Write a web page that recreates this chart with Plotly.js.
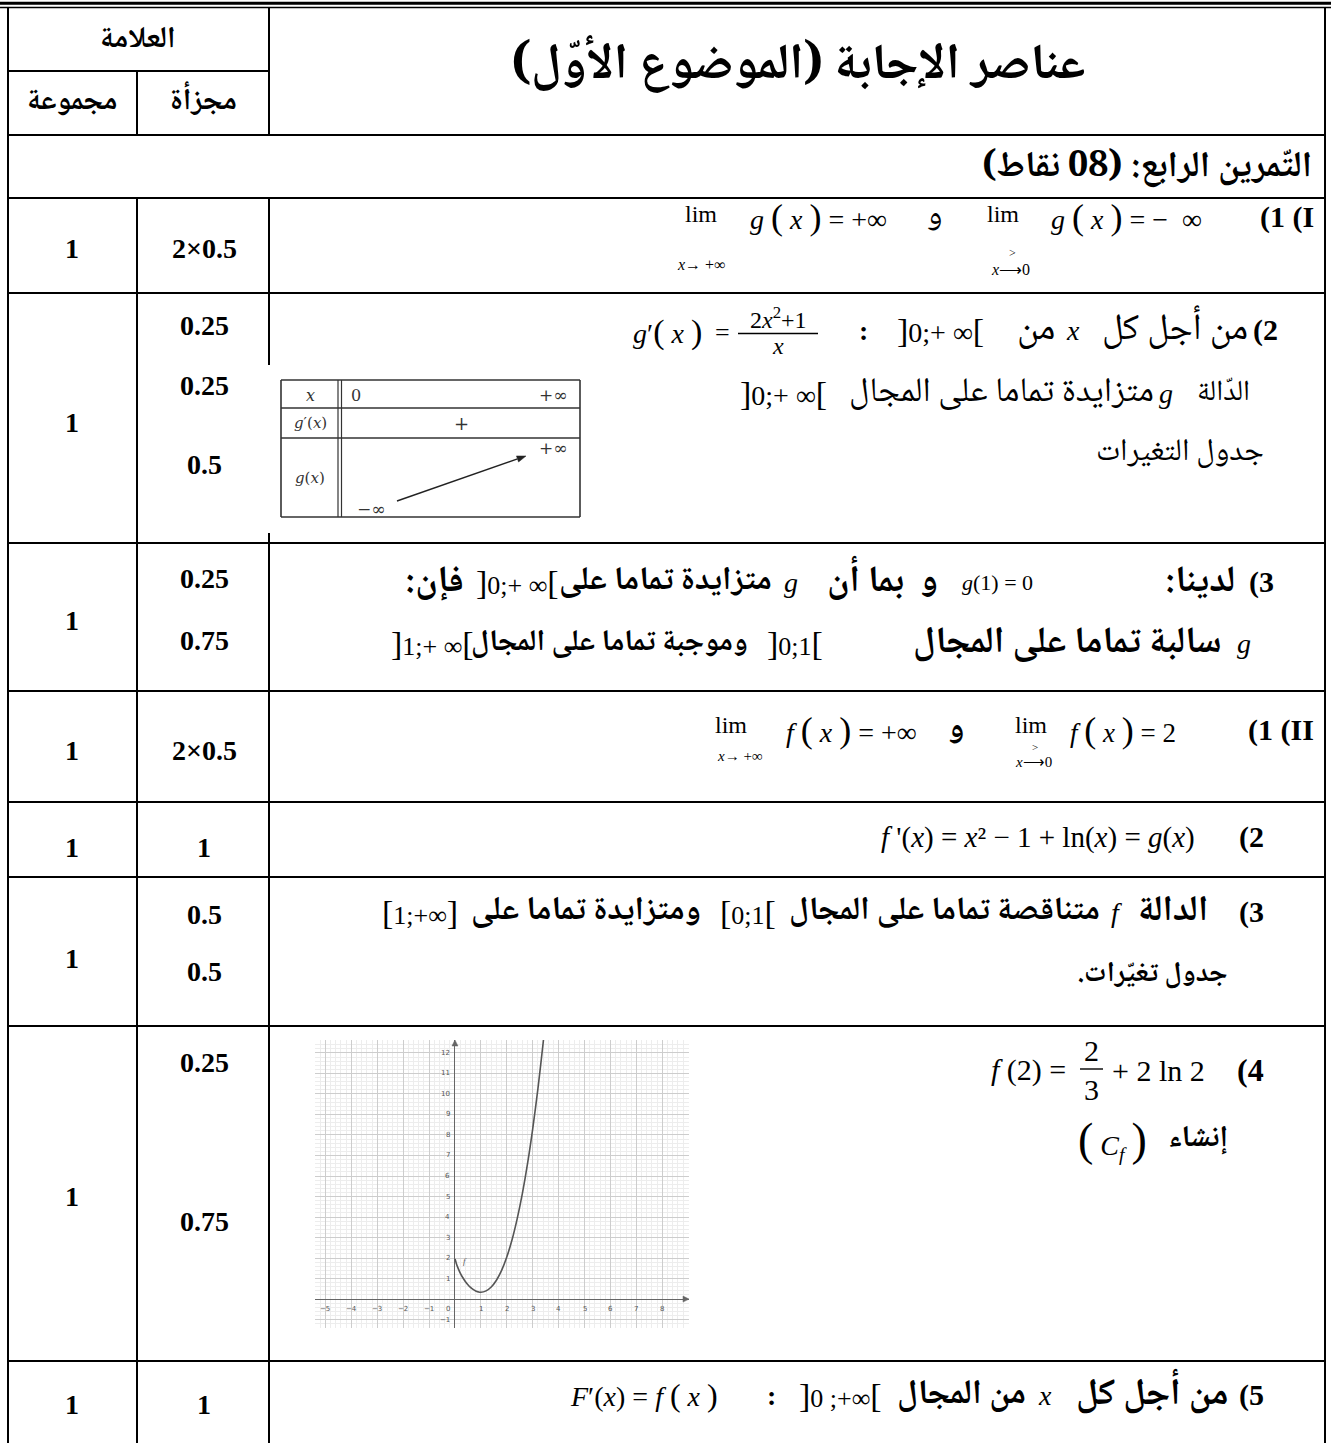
<!DOCTYPE html>
<html>
<head>
<meta charset="utf-8">
<script src="https://cdn.plot.ly/plotly-3.0.1.min.js"></script>
<style>html,body{margin:0;padding:0;background:#fff;}</style>
</head>
<body>
<div id="chart" style="width:1331px;height:1443px;"></div>
<script>
// ---------------- data ----------------
const headerGroup = 'العلامة';
const headerTotal = 'مجموعة';
const headerPart = 'مجزأة';
const titleText = 'عناصر الإجابة (الموضوع الأوّل)';
const exerciseText = 'التّمرين الرابع: (08 نقاط)';
const totalMarks = ['1', '1', '1', '1', '1', '1', '1', '1'];
const partMarks = [['2×0.5'], ['0.25', '0.25', '0.5'], ['0.25', '0.75'], ['2×0.5'], ['1'], ['0.5', '0.5'], ['0.25', '0.75'], ['1']];
// curve of f
const curveX = [0.005, 0.02, 0.05, 0.1, 0.2, 0.3, 0.4, 0.5, 0.6, 0.7, 0.8, 0.9, 1.0, 1.2, 1.4, 1.6, 1.8, 2.0, 2.2, 2.4, 2.6, 2.8, 3.0, 3.2, 3.4, 3.45];
const curveY = [1.96, 1.88, 1.75, 1.57, 1.28, 1.05, 0.86, 0.70, 0.57, 0.47, 0.39, 0.35, 0.33, 0.40, 0.59, 0.92, 1.40, 2.05, 2.88, 3.91, 5.14, 6.60, 8.30, 10.25, 12.46, 13.06];
const xTickVals = [-5, -4, -3, -2, -1, 1, 2, 3, 4, 5, 6, 7, 8];
const yTickVals = [-1, 1, 2, 3, 4, 5, 6, 7, 8, 9, 10, 11, 12];
const curveLabel = 'f';

// ---------------- layout helpers ----------------
const SERIF = '"Liberation Serif", "Times New Roman", serif';
const ARABFAM = '"Noto Naskh Arabic", "Noto Sans Arabic", "DejaVu Sans"';
const ARAB = ARABFAM + ', sans-serif';
const RLE = '\u202B', PDF = '\u202C';
const ctx = document.createElement('canvas').getContext('2d');
const shapes = [];
const ann = [];

function L(x0, y0, x1, y1, w, c, xr, yr) {
  shapes.push({type: 'line', xref: xr || 'x', yref: yr || 'y', x0, y0, x1, y1, layer: 'above',
    line: {color: c || '#000', width: w || 2}});
}
function tri(pts, c, xr, yr) {
  const d = 'M' + pts.map(p => p[0] + ',' + p[1]).join(' L') + ' Z';
  shapes.push({type: 'path', xref: xr || 'x', yref: yr || 'y', path: d, layer: 'above',
    fillcolor: c, line: {color: c, width: 0.5}});
}
function put(x, y, html, o) {
  o = o || {};
  ann.push({x, y, xref: 'x', yref: 'y', text: html, showarrow: false,
    xanchor: o.a || 'center', yanchor: 'middle',
    font: {family: o.f || SERIF, size: o.s || 26, color: o.c || '#000'}});
}
function measure(txt, bold) {
  ctx.font = (bold ? 'bold ' : '') + '100px ' + ARABFAM;
  return ctx.measureText(RLE + txt + PDF).width;
}
// a group of Arabic segments with a common font size (each one may vary a little to fill its slot)
function group(items, bold, maxS, anchor, spread) {
  let sw = 0, mw = 0;
  items.forEach(it => { sw += it[0] - it[1]; mw += measure(it[3], bold); });
  const S = Math.max(14, Math.min(maxS || 30, 100 * sw / mw));
  const k = spread === undefined ? 0.12 : spread;
  items.forEach(it => {
    const t = RLE + it[3] + PDF;
    const fit = 100 * (it[0] - it[1]) / measure(it[3], bold);
    const s = Math.max(S * (1 - k), Math.min(S * (1 + k), fit));
    const html = bold ? '<b>' + t + '</b>' : t;
    if (anchor === 'center') put((it[0] + it[1]) / 2, it[2], html, {f: ARAB, s: s});
    else put(it[0], it[2], html, {f: ARAB, s: s, a: 'right'});
  });
  return S;
}
function BR(l, inner, r, big) {
  const b = big || 34;
  return '<span style="font-size:' + b + 'px">' + l + '</span>' + inner + '<span style="font-size:' + b + 'px">' + r + '</span>';
}
const P = (c, s) => '<span style="font-size:' + (s || 36) + 'px">' + c + '</span>';

// ---------------- table grid ----------------
const XL = 8, XR = 1325, XC1 = 137, XC2 = 269, YT = 7.5, YB = 1443;
shapes.push({type: 'rect', xref: 'x', yref: 'y', x0: 0, x1: 1331, y0: 1.8, y1: 4.8, layer: 'above',
  fillcolor: '#000', line: {width: 0}});
L(0, YT, 1331, YT, 1.6);
L(XL, YT, XL, YB, 2);
L(XR, YT, XR, YB, 2);
L(XC2, YT, XC2, 135, 2);
L(XC1, 71, XC1, 135, 2);
L(XL, 71, XC2, 71, 2);
L(XC1, 198, XC1, YB, 2);
L(XC2, 198, XC2, 365, 2);
L(XC2, 533, XC2, YB, 2);
const rowLines = [135, 198, 293, 543, 691, 802, 877, 1026, 1361];
rowLines.forEach(y => L(XL, y, XR, y, 2));

// ---------------- header ----------------
group([[176, 100, 40, headerGroup]], true, 30, 'center', 0);
group([[128, 16, 102, headerTotal]], true, 30, 'center', 0);
group([[237, 170, 102, headerPart]], true, 30, 'center', 0);
group([[1090, 505, 67, titleText]], true, 50, 'center', 0);
group([[1316, 977, 168, exerciseText]], true, 36, 'center', 0);

// ---------------- marks ----------------
const totY = [248, 422, 620, 750, 847, 958, 1196, 1404];
const partY = [[248], [325, 385, 464], [578, 640], [750], [847], [914, 971], [1062, 1221], [1404]];
totalMarks.forEach((m, i) => put(72, totY[i], '<b>' + m + '</b>', {s: 28}));
partMarks.forEach((arr, i) => arr.forEach((m, j) => put(204, partY[i][j], '<b>' + m + '</b>', {s: 28})));

// ---------------- Arabic text of the rows ----------------
const S2 = group([
  [1250, 1098, 330, 'من أجل كل'], [1057, 1013, 330, 'من'],
  [1252, 1206, 393, 'الدّالة'], [1156, 851, 393, 'متزايدة تماما على المجال'],
  [1266, 1098, 453, 'جدول التغيرات']], false, 33);
const S3 = group([
  [1237, 1150, 582, 'لدينا:'], [940, 922, 582, 'و'], [906, 811, 582, 'بما أن'],
  [774, 561, 582, 'متزايدة تماما على'], [466, 382, 582, 'فإن:'],
  [1224, 865, 643, 'سالبة تماما على المجال'], [750, 473, 643, 'وموجبة تماما على المجال']], true, 33);
group([[944, 924, 217, 'و']], false, S2, 'center', 0);
group([[966, 946, 730, 'و']], true, S3, 'center', 0);
const S6 = group([
  [1210, 1136, 912, 'الدالة'], [1102, 791, 912, 'متناقصة تماما على المجال'],
  [703, 473, 912, 'ومتزايدة تماما على'], [1230, 1082, 975, 'جدول تغيّرات.']], true, 33);
group([[1230, 1170, 1139, 'إنشاء']], true, S6, 'right', 0);
group([[1230, 1068, 1395, 'من أجل كل'], [1028, 899, 1395, 'من المجال']], true, 33);

// ---------------- row I 1 ----------------
put(1316, 217, '<b>(1 (I</b>', {a: 'right', s: 30});
put(1003, 214, 'lim', {s: 24});
put(1010, 269, '<i>x</i>⟶0', {s: 16});
put(1012, 253, '>', {s: 12});
put(1049, 217, '<i>g</i> ' + P('(') + ' <i>x</i> ' + P(')') + ' = −  ∞', {a: 'left', s: 28});
put(701, 214, 'lim', {s: 24});
put(701, 264, '<i>x</i>→ +∞', {s: 16});
put(748, 217, '<i>g</i> ' + P('(') + ' <i>x</i> ' + P(')') + ' = +∞', {a: 'left', s: 28});

// ---------------- row I 2 ----------------
put(1280, 330, '<b>(2</b>', {a: 'right', s: 30});
put(1073, 330, '<i>x</i>', {s: 28});
put(940, 330, BR(']', '0;+ ∞', '['), {s: 28});
put(863, 330, '<b>:</b>', {s: 28});
put(631, 332, '<i>g</i>′' + P('(', 34) + ' <i>x</i> ' + P(')', 34), {a: 'left', s: 28});
put(722, 332, '=', {s: 26});
put(778, 318, '2<i>x</i><sup>2</sup>+1', {s: 24});
L(738, 333.5, 818, 333.5, 1.3);
put(778, 346, '<i>x</i>', {s: 24});
put(1166, 393, '<i>g</i>', {s: 28});
put(783, 393, BR(']', '0;+ ∞', '['), {s: 28});

// variation table of g
const VL = 281, VR = 580, VT = 380, VB = 517;
const vc = '#333';
L(VL, VT, VR, VT, 1.6, vc); L(VL, VB, VR, VB, 1.6, vc);
L(VL, VT, VL, VB, 1.6, vc); L(VR, VT, VR, VB, 1.6, vc);
L(338, VT, 338, VB, 1.2, vc); L(341.5, VT, 341.5, VB, 1.2, vc);
L(VL, 408, VR, 408, 1.4, vc); L(VL, 438, VR, 438, 1.4, vc);
const VF = '"DejaVu Serif", "Liberation Serif", serif';
put(310, 395, '<i>x</i>', {s: 16, f: VF, c: '#333'});
put(356, 395, '0', {s: 16, f: VF, c: '#333'});
put(553, 395, '+∞', {s: 17, f: VF, c: '#333'});
put(310, 423, '<i>g</i>′(<i>x</i>)', {s: 15, f: VF, c: '#333'});
put(461, 423, '+', {s: 18, f: VF, c: '#333'});
put(310, 478, '<i>g</i>(<i>x</i>)', {s: 15, f: VF, c: '#333'});
put(553, 448, '+∞', {s: 17, f: VF, c: '#333'});
put(371, 509, '−∞', {s: 17, f: VF, c: '#333'});
(function () {
  const x0 = 397, y0 = 501, x1 = 526, y1 = 456;
  const dx = x1 - x0, dy = y1 - y0, len = Math.hypot(dx, dy), ux = dx / len, uy = dy / len;
  const bx = x1 - 9 * ux, by = y1 - 9 * uy;
  L(x0, y0, bx, by, 1.4, '#222');
  tri([[x1, y1], [bx - 3.2 * uy, by + 3.2 * ux], [bx + 3.2 * uy, by - 3.2 * ux]], '#222');
})();

// ---------------- row I 3 ----------------
put(1276, 582, '<b>(3</b>', {a: 'right', s: 30});
put(997, 582, '<i>g</i>(1) = 0', {s: 22});
put(791, 582, '<i>g</i>', {s: 28});
put(517, 582, BR(']', '0;+ ∞', '['), {s: 26});
put(1244, 643, '<i>g</i>', {s: 28});
put(795, 643, BR(']', '0;1', '['), {s: 26});
put(432, 643, BR(']', '1;+ ∞', '['), {s: 26});

// ---------------- row II 1 ----------------
put(1316, 730, '<b>(1 (II</b>', {a: 'right', s: 30});
put(1068, 730, '<i>f</i> ' + P('(') + ' <i>x</i> ' + P(')') + ' = 2', {a: 'left', s: 27});
put(1031, 725, 'lim', {s: 24});
put(1033, 762, '<i>x</i>⟶0', {s: 15});
put(1035, 747, '>', {s: 11});
put(784, 730, '<i>f</i> ' + P('(') + ' <i>x</i> ' + P(')') + ' = +∞', {a: 'left', s: 28});
put(731, 725, 'lim', {s: 24});
put(740, 756, '<i>x</i>→ +∞', {s: 15});

// ---------------- row II 2 ----------------
put(1266, 837, '<b>(2</b>', {a: 'right', s: 30});
put(1197, 837, '<i>f</i> \'(<i>x</i>) = <i>x</i>² − 1 + ln(<i>x</i>) = <i>g</i>(<i>x</i>)', {a: 'right', s: 29});

// ---------------- row II 3 ----------------
put(1266, 912, '<b>(3</b>', {a: 'right', s: 30});
put(1116, 912, '<i>f</i>', {s: 28});
put(748, 912, BR('[', '0;1', '['), {s: 26});
put(420, 912, BR('[', '1;+∞', ']'), {s: 26});

// ---------------- row II 4 ----------------
put(1266, 1070, '<b>(4</b>', {a: 'right', s: 32});
put(1068, 1070, '<i>f</i> (2) =', {a: 'right', s: 30});
put(1091, 1050, '2', {s: 30});
L(1080, 1069, 1103, 1069, 1.4);
put(1091, 1089, '3', {s: 30});
put(1110, 1070, '+ 2 ln 2', {a: 'left', s: 30});
put(1112, 1139, P('(', 46) + ' <i>C<sub>f</sub></i> ' + P(')', 46), {s: 28});

// ---------------- row II 5 ----------------
put(1266, 1395, '<b>(5</b>', {a: 'right', s: 30});
put(1045, 1395, '<i>x</i>', {s: 28});
put(840, 1395, BR(']', '0 ;+∞', '['), {s: 26});
put(771, 1395, '<b>:</b>', {s: 28});
put(568, 1395, '<i>F</i>′(<i>x</i>) = <i>f</i> ' + P('(', 32) + ' <i>x</i> ' + P(')', 32), {a: 'left', s: 28});

// ---------------- small graph (subplot) ----------------
const W = 1331, H = 1443;
const GX0 = 315, GX1 = 689, GY0 = 1040, GY1 = 1328;
const XR2 = [-5.4, 9.03], YR2 = [-1.41, 12.63];
const pxX = (GX1 - GX0) / (XR2[1] - XR2[0]), pxY = (GY1 - GY0) / (YR2[1] - YR2[0]);
const tickFont = {family: '"DejaVu Sans", sans-serif', size: 7, color: '#555'};
xTickVals.forEach(v => ann.push({x: v, y: 0, xref: 'x2', yref: 'y2', text: (v < 0 ? '−' + (-v) : String(v)),
  showarrow: false, yanchor: 'top', xanchor: 'center', yshift: -4, font: tickFont}));
yTickVals.forEach(v => ann.push({x: 0, y: v, xref: 'x2', yref: 'y2', text: (v < 0 ? '−' + (-v) : String(v)),
  showarrow: false, xanchor: 'right', yanchor: 'middle', xshift: -3, font: tickFont}));
ann.push({x: 0, y: 0, xref: 'x2', yref: 'y2', text: '0', showarrow: false, xanchor: 'right', yanchor: 'top',
  xshift: -3, yshift: -4, font: tickFont});
ann.push({x: 0.25, y: 1.85, xref: 'x2', yref: 'y2', text: '<i>' + curveLabel + '</i>', showarrow: false,
  xanchor: 'left', yanchor: 'middle', font: {family: SERIF, size: 9, color: '#555'}});
// arrow heads at the ends of the axes
tri([[XR2[1], 0], [XR2[1] - 6 / pxX, 3 / pxY], [XR2[1] - 6 / pxX, -3 / pxY]], '#666', 'x2', 'y2');
tri([[0, YR2[1]], [3 / pxX, YR2[1] - 6 / pxY], [-3 / pxX, YR2[1] - 6 / pxY]], '#666', 'x2', 'y2');

const traces = [
  {x: [], y: [], xaxis: 'x', yaxis: 'y', type: 'scatter', mode: 'markers', hoverinfo: 'skip'},
  {x: curveX, y: curveY, xaxis: 'x2', yaxis: 'y2', type: 'scatter', mode: 'lines',
    line: {color: '#555', width: 1.6, shape: 'spline', smoothing: 0.8}, hoverinfo: 'skip'}
];

const axis2 = {tick0: 0, dtick: 1, showgrid: true, gridcolor: '#cdcdcd', gridwidth: 1, showticklabels: false,
  ticks: '', zeroline: true, zerolinecolor: '#666', zerolinewidth: 1, showline: false, fixedrange: true,
  minor: {tick0: 0, dtick: 0.2, showgrid: true, gridcolor: '#ededed', gridwidth: 1, ticks: ''}};

const layout = {
  width: W, height: H, margin: {l: 0, r: 0, t: 0, b: 0},
  paper_bgcolor: '#ffffff', plot_bgcolor: '#ffffff', showlegend: false,
  xaxis: {domain: [0, 1], range: [0, W], visible: false, fixedrange: true},
  yaxis: {domain: [0, 1], range: [H, 0], visible: false, fixedrange: true},
  xaxis2: Object.assign({domain: [GX0 / W, GX1 / W], range: XR2, anchor: 'y2'}, axis2),
  yaxis2: Object.assign({domain: [1 - GY1 / H, 1 - GY0 / H], range: YR2, anchor: 'x2'}, axis2),
  shapes: shapes,
  annotations: ann
};

Plotly.newPlot('chart', traces, layout, {staticPlot: true, displayModeBar: false});
</script>
</body>
</html>
